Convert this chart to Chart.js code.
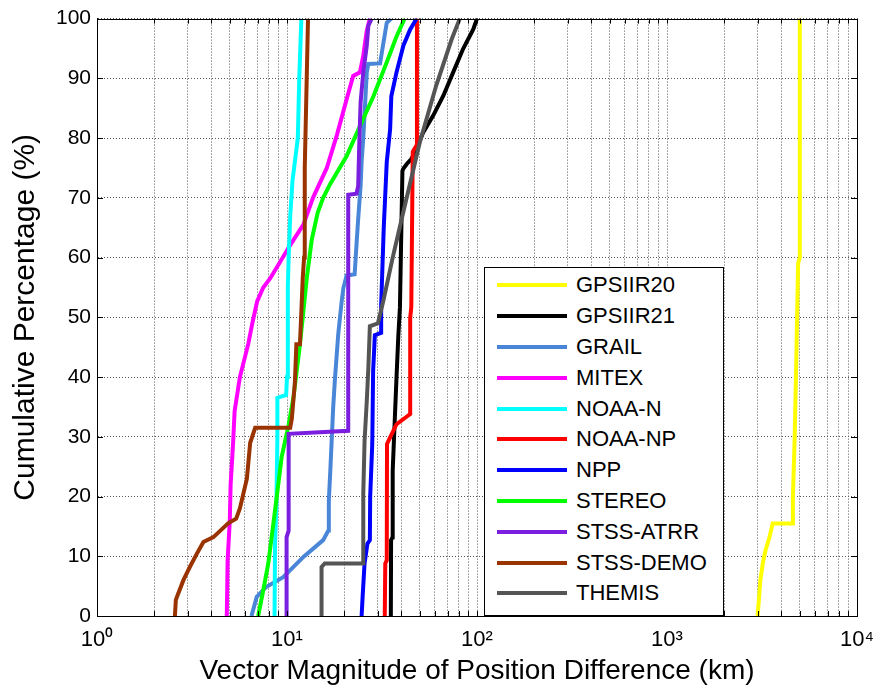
<!DOCTYPE html>
<html>
<head>
<meta charset="utf-8">
<script src="https://cdn.jsdelivr.net/npm/chart.js@4.4.1/dist/chart.umd.min.js"></script>
<style>
  body { margin: 0; background: #fff; }
  #wrap { position: relative; width: 879px; height: 690px; }
  #legend {
    position: absolute; left: 484px; top: 267px; width: 240px; height: 349px;
    box-sizing: border-box; border: 1px solid #000; background: #fff; padding-top: 2px;
    font-family: 'Liberation Sans', Arial, sans-serif; font-size: 22px; color: #000;
  }
  .row { height: 30.8px; display: flex; align-items: center; }
  .swatch { width: 70px; height: 4px; margin-left: 12px; margin-right: 9px; }
</style>
</head>
<body>
<div id="wrap">
  <canvas id="cdf" width="879" height="690"></canvas>
  <div id="legend"></div>
</div>
<script>
// series names and colours
const seriesNames = ['GPSIIR20', 'GPSIIR21', 'GRAIL', 'MITEX', 'NOAA-N', 'NOAA-NP',
  'NPP', 'STEREO', 'STSS-ATRR', 'STSS-DEMO', 'THEMIS'];
const seriesColors = ['#ffff00', '#000000', '#4a86d8', '#ff00ff', '#00ffff', '#ff0000',
  '#0000ff', '#00ff00', '#7b1ee0', '#993300', '#555555'];

// position difference (km) and cumulative percentage
const gpsiir20X = [3000, 3050, 3100, 3200, 3300, 3450, 3600, 4550, 4600, 4700, 4800, 4900, 5000, 5000];
const gpsiir20Y = [0, 3, 6, 9, 11, 13, 15.5, 15.5, 20, 30, 44, 59, 60, 100];

const gpsiir21X = [35.2, 35.3, 35.9, 36, 36.9, 37.7, 38.5, 39.3, 40.5, 41, 42.8, 45.1, 48.1, 52.2, 58.9, 66.5, 74.9, 84.4, 95.5, 100];
const gpsiir21Y = [0, 12.7, 13.2, 24.3, 32.7, 39.9, 46.6, 51.7, 74.5, 74.9, 75.7, 76.5, 78.2, 81, 83.8, 87.1, 91, 94.9, 98.2, 100];

const grailX = [6.5, 6.93, 7.8, 9.55, 12.2, 15.5, 16.5, 16.6, 16.9, 17.5, 17.9, 18.6, 19.4, 19.8, 20.6, 22.7, 23.2, 23.7, 24.4, 24.7, 25.2, 26.3, 26.8, 30.9, 32, 33.5, 35.4];
const grailY = [0, 3.2, 4.9, 6.5, 9.9, 12.7, 14.3, 19.3, 24.3, 34.9, 39.9, 47.1, 52.7, 54.9, 57, 57.2, 62, 66.5, 72, 76, 80, 91, 92.4, 92.5, 95.5, 99.3, 100];

const mitexX = [4.82, 4.87, 5.0, 5.05, 5.2, 5.3, 5.65, 6.25, 6.6, 6.97, 7.5, 8.15, 9.5, 10.35, 12.2, 13.7, 16.2, 18.3, 20.6, 22.3, 24.2, 25.2, 26.3, 27.3];
const mitexY = [0, 9.3, 16, 22, 28.8, 34.3, 40, 45.5, 49.3, 52.7, 55, 56.5, 60, 62, 65.5, 70, 75, 80.5, 86.5, 90.4, 91, 93.8, 98, 100];

const noaaNX = [8.6, 8.65, 8.8, 8.9, 8.9, 9.9, 10, 10.1, 10.1, 10.2, 10.4, 10.7, 11.4, 11.6, 11.9];
const noaaNY = [0, 12, 19, 30, 36.5, 37, 40, 50, 55, 60, 67, 73, 80, 90, 100];

const noaaNPX = [32.7, 32.9, 33.5, 33.6, 34.9, 37.7, 44.5, 44.5, 45.1, 45.9, 48.1, 48.3];
const noaaNPY = [0, 8.8, 9.3, 28.8, 29.9, 32.1, 33.8, 49.9, 51.7, 77.7, 78.8, 100];

const nppX = [24.7, 25, 25.6, 26.5, 27.3, 27.4, 28.1, 28.4, 29, 31.3, 31.3, 32.3, 33.5, 34.9, 35.4, 37.7, 41, 44.5, 48.1];
const nppY = [0, 3.2, 8.8, 12.1, 12.7, 19.9, 28.8, 41, 47, 47.4, 52, 65, 76, 81.5, 87, 91, 95.5, 98.2, 100];

const stereoX = [7.05, 7.5, 7.97, 8.3, 8.83, 9.37, 10.2, 10.8, 11.25, 11.7, 12.2, 12.7, 13.5, 14.5, 15.5, 16.8, 20.6, 24.2, 28.5, 33.5, 37.7, 41.6];
const stereoY = [0, 4.3, 8.8, 13.2, 19.9, 26.6, 32, 36.5, 41, 45.5, 51, 56.5, 63, 67.5, 70, 72.2, 77, 82, 87, 92.7, 97, 100];

const stssAtrrX = [9.95, 9.95, 10.2, 10.2, 21.0, 21.0, 23.2, 23.7, 24.0, 24.4, 25.2, 26.3, 26.8, 27.9];
const stssAtrrY = [0, 13.2, 14.3, 30.5, 31, 70.5, 70.7, 72, 78.8, 86, 91, 95.5, 98.8, 100];

const stssDemoX = [2.57, 2.6, 2.68, 2.85, 3.08, 3.35, 3.63, 4.1, 4.9, 5.4, 5.65, 6.15, 6.4, 6.8, 10.4, 10.6, 11.0, 11.2, 11.7, 11.9, 12.1, 12.3, 12.4, 12.7, 12.9];
const stssDemoY = [0, 2.7, 3.8, 6, 8.2, 10.4, 12.4, 13.2, 15.5, 16.3, 18, 23, 29, 31.5, 31.5, 33, 39, 45.5, 45.5, 51, 56.5, 60, 75, 90, 100];

const themisX = [15.2, 15.2, 15.8, 25.2, 25.2, 25.6, 26.3, 26.8, 27.3, 30.1, 32.1, 36, 41, 50, 61, 73.5, 81.2];
const themisY = [0, 8.2, 8.8, 8.8, 20.4, 29.3, 36, 41.5, 48.5, 49, 52.7, 60, 67.7, 79.3, 88.8, 96.5, 100];

const seriesX = [gpsiir20X, gpsiir21X, grailX, mitexX, noaaNX, noaaNPX, nppX, stereoX, stssAtrrX, stssDemoX, themisX];
const seriesY = [gpsiir20Y, gpsiir21Y, grailY, mitexY, noaaNY, noaaNPY, nppY, stereoY, stssAtrrY, stssDemoY, themisY];

// log grid at 1..9 of each decade
const decades = [1, 10, 100, 1000];
const xTickValues = [];
decades.forEach(d => { for (let k = 1; k <= 9; k++) xTickValues.push(d * k); });
xTickValues.push(10000);
const supDigits = ['\u2070', '\u00b9', '\u00b2', '\u00b3', '\u2074'];

const fontFamily = "'Liberation Sans', Arial, sans-serif";

const datasets = seriesNames.map((name, i) => ({
  label: name,
  data: seriesX[i].map((x, j) => ({ x: x, y: seriesY[i][j] })),
  borderColor: seriesColors[i],
  backgroundColor: seriesColors[i],
  borderWidth: 4,
  pointRadius: 0,
  showLine: true,
  tension: 0,
  order: seriesNames.length - i
}));

// box round the plot and little inside ticks, matlab style
const boxPlugin = {
  id: 'box',
  afterDraw(chart) {
    const { ctx, chartArea: a, scales } = chart;
    ctx.save();
    ctx.strokeStyle = '#000';
    ctx.lineWidth = 1;
    ctx.beginPath();
    scales.x.ticks.forEach(t => {
      const px = Math.round(scales.x.getPixelForValue(t.value)) + 0.5;
      ctx.moveTo(px, a.bottom); ctx.lineTo(px, a.bottom - 5);
      ctx.moveTo(px, a.top); ctx.lineTo(px, a.top + 5);
    });
    scales.y.ticks.forEach(t => {
      const py = Math.round(scales.y.getPixelForValue(t.value)) + 0.5;
      ctx.moveTo(a.left, py); ctx.lineTo(a.left + 6, py);
      ctx.moveTo(a.right, py); ctx.lineTo(a.right - 6, py);
    });
    ctx.stroke();
    ctx.strokeRect(Math.round(a.left) + 0.5, Math.round(a.top) + 0.5,
      Math.round(a.right - a.left), Math.round(a.bottom - a.top));
    ctx.restore();
  }
};

const cdfChart = new Chart(document.getElementById('cdf'), {
  type: 'scatter',
  data: { datasets: datasets },
  plugins: [boxPlugin],
  options: {
    responsive: false,
    animation: false,
    layout: { padding: { left: 0, top: 16, right: 22, bottom: 0 } },
    plugins: { legend: { display: false }, tooltip: { enabled: false } },
    scales: {
      x: {
        type: 'logarithmic',
        min: 1,
        max: 10000,
        afterBuildTicks: s => { s.ticks = xTickValues.map(v => ({ value: v })); },
        afterFit: s => { s.height = 74; s.paddingLeft = 0; s.paddingRight = 0; },
        grid: { color: '#555', lineWidth: 1, drawTicks: false },
        border: { color: '#000', width: 1, dash: [1, 2] },
        ticks: {
          autoSkip: false, maxRotation: 0, padding: 11, color: '#000',
          font: { family: fontFamily, size: 22 },
          callback: v => {
            const e = Math.round(Math.log10(v));
            return Math.abs(Math.pow(10, e) - v) < 1e-9 ? '10' + supDigits[e] : '';
          }
        },
        title: {
          display: true, text: 'Vector Magnitude of Position Difference (km)', color: '#000',
          font: { family: fontFamily, size: 28 }, padding: { top: 0, bottom: 2 }
        }
      },
      y: {
        min: 0,
        max: 100,
        afterFit: s => { s.width = 97; },
        grid: { color: '#555', lineWidth: 1, drawTicks: false },
        border: { color: '#000', width: 1, dash: [1, 2] },
        ticks: {
          stepSize: 10, padding: 6, color: '#000',
          font: { family: fontFamily, size: 21 }
        },
        title: {
          display: true, text: 'Cumulative Percentage (%)', color: '#000',
          font: { family: fontFamily, size: 30 }, padding: { top: 8, bottom: 0 }
        }
      }
    }
  }
});

// legend inside the axes
const legendBox = document.getElementById('legend');
seriesNames.forEach((name, i) => {
  const row = document.createElement('div');
  row.className = 'row';
  const sw = document.createElement('span');
  sw.className = 'swatch';
  sw.style.background = seriesColors[i];
  const txt = document.createElement('span');
  txt.textContent = name;
  row.appendChild(sw);
  row.appendChild(txt);
  legendBox.appendChild(row);
});
</script>
</body>
</html>
